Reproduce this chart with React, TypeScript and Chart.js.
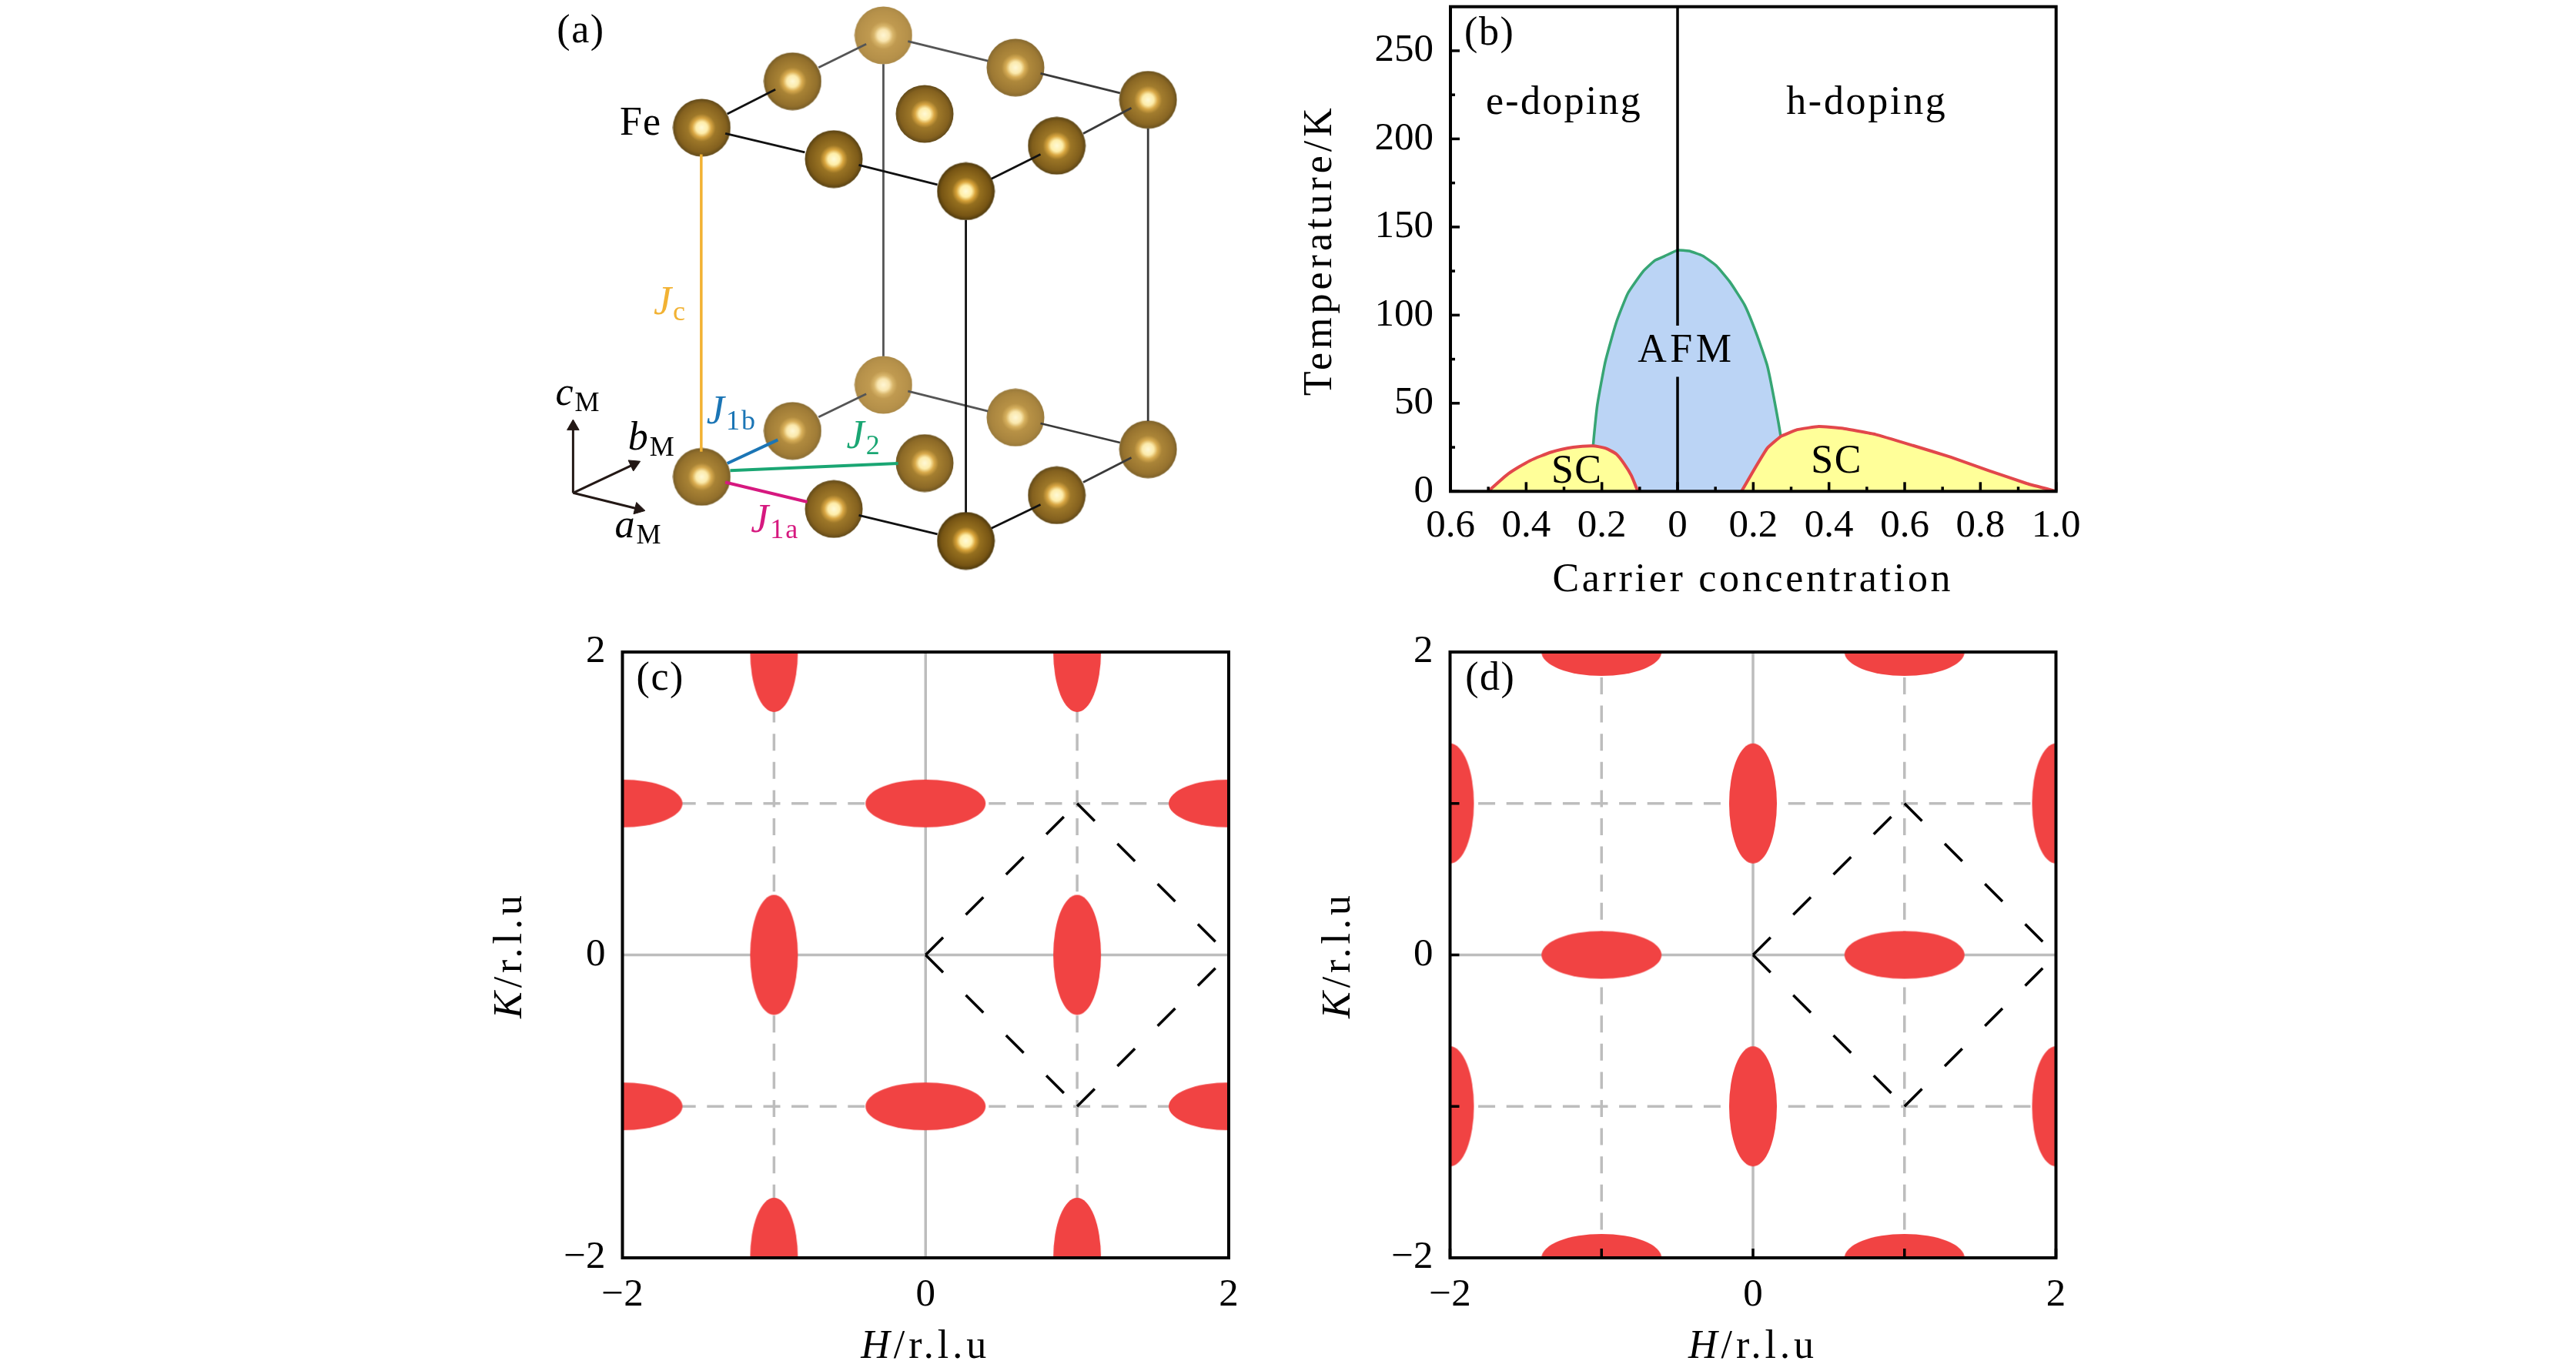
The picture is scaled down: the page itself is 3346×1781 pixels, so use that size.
import React, { useEffect, useRef } from "react";
import { Chart, registerables } from "chart.js";

Chart.register(...registerables);

const SERIF = "Liberation Serif";

// ---------- panel (a): Fe lattice schematic (schematic units) ----------
const atomX = [780, 595, 1049, 1319, 410, 864, 679, 1133, 948, 780, 595, 1049, 1319, 410, 864, 679, 1133, 948];
const atomY = [90, 207, 172, 254, 325, 290, 405, 371, 487, 980, 1097, 1063, 1144, 1214, 1179, 1296, 1261, 1377];
const atomHaze = [1, 0.45, 0.6, 0.3, 0.2, 0.2, 0.1, 0.15, 0, 1, 0.65, 0.8, 0.5, 0.45, 0.35, 0.2, 0.2, 0];

const bondsFront = [
  [462, 290, 560, 228], [620, 388, 458, 340], [890, 470, 730, 420], [1100, 393, 1000, 455],
  [948, 560, 948, 1305], [1100, 1285, 1000, 1345], [890, 1360, 730, 1312],
];
const bondsMiddle = [
  [1285, 275, 1187, 340], [1100, 187, 1262, 237], [1319, 327, 1319, 1072],
  [1285, 1165, 1187, 1228], [1100, 1078, 1262, 1127],
];
const bondsBack = [
  [648, 172, 745, 112], [830, 105, 993, 155], [780, 163, 780, 907],
  [648, 1062, 745, 1003], [830, 996, 993, 1047],
];
const exchangeJc = [409, 393, 409, 1150];
const exchangeJ1b = [462, 1180, 565, 1120];
const exchangeJ2 = [468, 1198, 810, 1180];
const exchangeJ1a = [458, 1228, 625, 1278];
const axisOrigin = [148, 1255];
const axisC = [148, 1086, 0];
const axisB = [272, 1182, 65];
const axisA = [281, 1296, 104];

// ---------- panel (b): phase diagram ----------
const domeX = [-0.223, -0.223, -0.212, -0.191, -0.162, -0.131, -0.091, -0.06, -0.034, 0, 0.03, 0.066, 0.102, 0.137, 0.177, 0.209, 0.237, 0.258, 0.273, 0.273];
const domeT = [0, 25.6, 49, 73.5, 95.8, 112.5, 124.8, 131, 133.5, 136.8, 136.4, 133.7, 128.1, 119.2, 105.8, 89.1, 71.3, 49, 30, 0];
const scLeftX = [-0.5, -0.447, -0.39, -0.333, -0.276, -0.223, -0.191, -0.162, -0.141, -0.122, -0.105];
const scLeftT = [0, 10, 17.4, 22.3, 25, 25.8, 24.5, 21.2, 15.6, 8.9, 0];
const scRightX = [0.169, 0.202, 0.237, 0.273, 0.316, 0.373, 0.437, 0.523, 0.622, 0.722, 0.822, 0.922, 1];
const scRightT = [0, 12.3, 24.5, 31.2, 35, 36.8, 35.7, 32.3, 26, 19.4, 11.8, 4.5, 0];
const dividerX = [0, 0];
const dividerTopT = [275, 94];
const dividerBaseT = [65, 0];

const bXTicks = [-0.6, -0.5, -0.4, -0.3, -0.2, -0.1, 0, 0.1, 0.2, 0.3, 0.4, 0.5, 0.6, 0.7, 0.8, 0.9, 1.0];
const bXLabels = ["0.6", "", "0.4", "", "0.2", "", "0", "", "0.2", "", "0.4", "", "0.6", "", "0.8", "", "1.0"];
const bYTicks = [0, 25, 50, 75, 100, 125, 150, 175, 200, 225, 250];
const bYLabels = ["0", "", "50", "", "100", "", "150", "", "200", "", "250"];

// ---------- panels (c), (d): reciprocal space ----------
const hkTicks = [-2, -1, 0, 1, 2];
const hkLabels = ["\u22122", "", "0", "", "2"];
const cTallH = [-1, 1, -1, 1, -1, 1];
const cTallK = [2, 2, 0, 0, -2, -2];
const cWideH = [-2, 0, 2, -2, 0, 2];
const cWideK = [1, 1, 1, -1, -1, -1];
const dTallH = [-2, 0, 2, -2, 0, 2];
const dTallK = [1, 1, 1, -1, -1, -1];
const dWideH = [-1, 1, -1, 1, -1, 1];
const dWideK = [2, 2, 0, 0, -2, -2];
const zoneEdges = [
  [0, 0, 1, 1],
  [1, 1, 2, 0],
  [0, 0, 1, -1],
  [1, -1, 2, 0],
];
const gridSolid = [
  [-2, 0, 2, 0],
  [0, -2, 0, 2],
];
const gridDashed = [
  [-2, 1, 2, 1],
  [-2, -1, 2, -1],
  [-1, -2, -1, 2],
  [1, -2, 1, 2],
];

// ---------- text ----------
type Run = { t: string; i?: boolean; sub?: boolean };
type Label = {
  runs: Run[]; x: number; y: number; size?: number; sp?: number; color?: string;
  rot?: number; left?: boolean;
};
const ink = "#000000";
const colorJc = "#F2B233";
const colorJ1b = "#1B75B5";
const colorJ2 = "#1AA673";
const colorJ1a = "#D6187F";

const aLabels: Label[] = [
  { runs: [{ t: "(a)" }], x: 115, y: 108, left: true, sp: 1.5 },
  { runs: [{ t: "Fe" }], x: 243, y: 343, left: true, sp: 1 },
  { runs: [{ t: "J", i: true }, { t: "c", sub: true }], x: 312, y: 800, left: true, color: colorJc, sp: 2 },
  { runs: [{ t: "J", i: true }, { t: "1b", sub: true }], x: 420, y: 1078, left: true, color: colorJ1b, sp: 2 },
  { runs: [{ t: "J", i: true }, { t: "2", sub: true }], x: 705, y: 1140, left: true, color: colorJ2, sp: 2 },
  { runs: [{ t: "J", i: true }, { t: "1a", sub: true }], x: 510, y: 1355, left: true, color: colorJ1a, sp: 2 },
  { runs: [{ t: "c", i: true }, { t: "M", sub: true }], x: 112, y: 1030, left: true, sp: 2 },
  { runs: [{ t: "b", i: true }, { t: "M", sub: true }], x: 260, y: 1145, left: true, sp: 2 },
  { runs: [{ t: "a", i: true }, { t: "M", sub: true }], x: 233, y: 1368, left: true, sp: 2 },
];
const bLabels: Label[] = [
  { runs: [{ t: "(b)" }], x: -0.497, y: 259.6, sp: 1.5 },
  { runs: [{ t: "e-doping" }], x: -0.3, y: 220, sp: 2.3 },
  { runs: [{ t: "h-doping" }], x: 0.5, y: 220, sp: 2.7 },
  { runs: [{ t: "AFM" }], x: 0.023, y: 79.5, sp: 4.5 },
  { runs: [{ t: "SC" }], x: -0.266, y: 10.8, sp: 1.5 },
  { runs: [{ t: "SC" }], x: 0.42, y: 16.4, sp: 1.5 },
  { runs: [{ t: "Carrier concentration" }], x: 0.199, y: -50.5, sp: 3.7 },
  { runs: [{ t: "Temperature/K" }], x: -0.942, y: 137, sp: 5, rot: -90 },
];
const hkTitles = (tag: string, tagX: number): Label[] => [
  { runs: [{ t: tag }], x: tagX, y: 1.82, sp: 1.5 },
  { runs: [{ t: "H", i: true }, { t: "/r.l.u" }], x: 0, y: -2.59, sp: 5 },
  { runs: [{ t: "K", i: true }, { t: "/r.l.u" }], x: -2.735, y: 0, sp: 5, rot: -90 },
];

// ---------- helpers ----------
const pts = (xs: number[], ys: number[]) => xs.map((x, i) => ({ x, y: ys[i] }));
const seg = (s: number[]) => [{ x: s[0], y: s[1] }, { x: s[2], y: s[3] }];

const lerpHex = (a: string, b: string, t: number) => {
  const p = (h: string, i: number) => parseInt(h.slice(i, i + 2), 16);
  const c = [1, 3, 5].map((i) => Math.round(p(a, i) + (p(b, i) - p(a, i)) * t));
  return `rgb(${c[0]},${c[1]},${c[2]})`;
};
const makeAtom = (haze: number) => {
  const c = document.createElement("canvas");
  c.width = 76;
  c.height = 76;
  const g = c.getContext("2d")!;
  const stops = [0, 0.2, 0.33, 0.48, 0.85, 1];
  const dark = ["#FFFBD8", "#FFEFA8", "#D9A43A", "#96701F", "#775514", "#4F3A0E"];
  const light = ["#FFF6D4", "#F9E6B0", "#D8B56A", "#C09A50", "#B6914A", "#AC8A48"];
  const grad = g.createRadialGradient(38, 38, 0, 38, 38, 37.5);
  stops.forEach((s, i) => grad.addColorStop(s, lerpHex(dark[i], light[i], haze)));
  g.fillStyle = grad;
  g.beginPath();
  g.arc(38, 38, 37.5, 0, Math.PI * 2);
  g.fill();
  return c;
};
const makeEllipse = (rx: number, ry: number) => {
  const c = document.createElement("canvas");
  c.width = Math.ceil(rx * 2) + 2;
  c.height = Math.ceil(ry * 2) + 2;
  const g = c.getContext("2d")!;
  g.fillStyle = "#F14343";
  g.beginPath();
  g.ellipse(c.width / 2, c.height / 2, rx, ry, 0, 0, Math.PI * 2);
  g.fill();
  return c;
};

const panelPlugin = (labels: Label[], tickLen: (label: string) => number, frame: boolean) => ({
  id: "panelDecor",
  afterDatasetsDraw(chart: any) {
    const { ctx, chartArea: a, scales } = chart;
    if (!frame) return;
    ctx.save();
    ctx.strokeStyle = "#000";
    ctx.lineWidth = 3.5;
    for (const t of scales.x.ticks) {
      const len = tickLen(String(t.label));
      if (!len) continue;
      const p = scales.x.getPixelForValue(t.value);
      ctx.beginPath();
      ctx.moveTo(p, a.bottom);
      ctx.lineTo(p, a.bottom - len);
      ctx.stroke();
    }
    for (const t of scales.y.ticks) {
      const len = tickLen(String(t.label));
      if (!len) continue;
      const p = scales.y.getPixelForValue(t.value);
      ctx.beginPath();
      ctx.moveTo(a.left, p);
      ctx.lineTo(a.left + len, p);
      ctx.stroke();
    }
    ctx.lineWidth = 4;
    ctx.strokeRect(a.left, a.top, a.right - a.left, a.bottom - a.top);
    ctx.restore();
  },
  afterDraw(chart: any) {
    const { ctx, scales } = chart;
    for (const l of labels) {
      const size = l.size ?? 52;
      ctx.save();
      ctx.translate(scales.x.getPixelForValue(l.x), scales.y.getPixelForValue(l.y));
      if (l.rot) ctx.rotate((l.rot * Math.PI) / 180);
      ctx.fillStyle = l.color ?? ink;
      ctx.textBaseline = l.left ? "alphabetic" : "middle";
      ctx.textAlign = "left";
      (ctx as any).letterSpacing = `${l.sp ?? 0}px`;
      const fontOf = (r: Run) => `${r.i ? "italic " : ""}${r.sub ? 36 : size}px "${SERIF}"`;
      let total = 0;
      for (const r of l.runs) {
        ctx.font = fontOf(r);
        total += ctx.measureText(r.t).width;
      }
      let x = l.left ? 0 : -total / 2;
      for (const r of l.runs) {
        ctx.font = fontOf(r);
        ctx.fillText(r.t, x, r.sub ? 8 : 0);
        x += ctx.measureText(r.t).width;
      }
      (ctx as any).letterSpacing = "0px";
      ctx.restore();
    }
  },
});

const axis = (
  min: number, max: number, ticks: number[], labels: string[], fitKey: "width" | "height", fit: number, pad: number,
) => ({
  type: "linear" as const,
  min,
  max,
  grid: { display: false, drawTicks: false },
  border: { display: false },
  afterBuildTicks: (s: any) => {
    s.ticks = ticks.map((value) => ({ value }));
  },
  afterFit: (s: any) => {
    s[fitKey] = fit;
  },
  ticks: {
    autoSkip: false,
    maxRotation: 0,
    minRotation: 0,
    padding: pad,
    color: ink,
    font: { family: SERIF, size: 51 },
    callback: (_v: any, i: number) => labels[i],
  },
});

const baseOptions = (padding: any, scales: any) => ({
  responsive: false,
  animation: false as const,
  devicePixelRatio: 1,
  events: [] as string[],
  layout: { padding, autoPadding: false },
  plugins: { legend: { display: false }, tooltip: { enabled: false } },
  scales,
});

const lineDs = (data: any[], color: string, width: number, order: number, extra: any = {}) => ({
  type: "scatter" as const,
  data,
  showLine: true,
  borderColor: color,
  borderWidth: width,
  pointRadius: 0,
  order,
  ...extra,
});

function makeA(cv: HTMLCanvasElement) {
  const sprites = atomHaze.map(makeAtom);
  const bonds = (list: number[][], color: string) => list.map((s) => lineDs(seg(s), color, 2.8, 1));
  const arrow = (end: number[]) =>
    lineDs(
      [{ x: axisOrigin[0], y: axisOrigin[1] }, { x: end[0], y: end[1] }],
      "#231815", 3, 0,
      {
        pointRadius: (c: any) => (c.dataIndex === 1 ? 9 : 0),
        pointStyle: "triangle",
        pointRotation: end[2],
        pointBackgroundColor: "#231815",
        pointBorderColor: "#231815",
        pointBorderWidth: 1,
        clip: false,
      },
    );
  return new Chart(cv, {
    type: "scatter",
    data: {
      datasets: [
        ...bonds(bondsFront, "#111111"),
        ...bonds(bondsMiddle, "#3A3A3A"),
        ...bonds(bondsBack, "#555555"),
        lineDs(seg(exchangeJc), colorJc, 3.5, 0),
        lineDs(seg(exchangeJ1b), colorJ1b, 4, 0),
        lineDs(seg(exchangeJ2), colorJ2, 4, 0),
        lineDs(seg(exchangeJ1a), colorJ1a, 4, 0),
        arrow(axisC),
        arrow(axisB),
        arrow(axisA),
        {
          type: "scatter" as const,
          data: pts(atomX, atomY),
          showLine: false,
          pointRadius: 38,
          pointStyle: (c: any) => sprites[c.dataIndex],
          order: 5,
          clip: false,
        },
      ],
    } as any,
    options: baseOptions(0, {
      x: { type: "linear", min: 0, max: 1568, display: false },
      y: { type: "linear", min: 0, max: 1568, reverse: true, display: false },
    }) as any,
    plugins: [panelPlugin(aLabels, () => 0, false)],
  });
}

function makeB(cv: HTMLCanvasElement) {
  return new Chart(cv, {
    type: "scatter",
    data: {
      datasets: [
        lineDs(pts(domeX, domeT), "#37A574", 3.5, 5, { fill: "origin", backgroundColor: "#BBD4F5", tension: 0.15 }),
        lineDs(pts(scLeftX, scLeftT), "#E2474B", 4, 4, { fill: "origin", backgroundColor: "#FFFF99", tension: 0.2 }),
        lineDs(pts(scRightX, scRightT), "#E2474B", 4, 4, { fill: "origin", backgroundColor: "#FFFF99", tension: 0.1 }),
        lineDs(pts(dividerX, dividerTopT), "#000", 3.5, 3),
        lineDs(pts(dividerX, dividerBaseT), "#000", 3.5, 3),
      ],
    } as any,
    options: baseOptions({ left: 0, top: 68.7, right: 89.3, bottom: 0 }, {
      x: axis(-0.6, 1, bXTicks, bXLabels, "height", 161.7, 15),
      y: axis(0, 275, bYTicks, bYLabels, "width", 224, 22),
    }) as any,
    plugins: [panelPlugin(bLabels, (l) => (l ? 12 : 6), true)],
  });
}

function makeHK(
  cv: HTMLCanvasElement, tallH: number[], tallK: number[], wideH: number[], wideK: number[],
  labels: Label[], tickLen: number, padRight: number,
) {
  const tall = makeEllipse(31, 78);
  const wide = makeEllipse(78, 31);
  const red = (h: number[], k: number[], sprite: HTMLCanvasElement) => ({
    type: "scatter" as const,
    data: pts(h, k),
    showLine: false,
    pointRadius: 40,
    pointStyle: sprite,
    clip: 0,
    order: 2,
  });
  return new Chart(cv, {
    type: "scatter",
    data: {
      datasets: [
        ...gridSolid.map((s) => lineDs(seg(s), "#BDBDBD", 3.5, 4)),
        ...gridDashed.map((s) => lineDs(seg(s), "#BDBDBD", 3.5, 4, { borderDash: [22, 14.6] })),
        red(tallH, tallK, tall),
        red(wideH, wideK, wide),
        ...zoneEdges.map((s) => lineDs(seg(s), "#000", 3.5, 1, { borderDash: [32.2, 41.7] })),
      ],
    } as any,
    options: baseOptions({ left: 0, top: 67, right: padRight, bottom: 0 }, {
      x: axis(-2, 2, hkTicks, hkLabels, "height", 147, 18),
      y: axis(-2, 2, hkTicks, hkLabels, "width", 208.5, 22),
    }) as any,
    plugins: [panelPlugin(labels, () => tickLen, true)],
  });
}

const Panel = React.forwardRef<HTMLCanvasElement, { l: number; t: number; w: number; h: number }>(
  ({ l, t, w, h }, ref) => (
    <canvas ref={ref} width={w} height={h} style={{ position: "absolute", left: l, top: t, width: w, height: h }} />
  ),
);

export default function App() {
  const a = useRef<HTMLCanvasElement>(null);
  const b = useRef<HTMLCanvasElement>(null);
  const c = useRef<HTMLCanvasElement>(null);
  const d = useRef<HTMLCanvasElement>(null);
  useEffect(() => {
    const charts = [
      makeA(a.current!),
      makeB(b.current!),
      makeHK(c.current!, cTallH, cTallK, cWideH, cWideK, hkTitles("(c)", -1.75), 0, 64),
      makeHK(d.current!, dTallH, dTallK, dWideH, dWideK, hkTitles("(d)", -1.734), 12, 64.5),
    ];
    return () => charts.forEach((ch) => ch.destroy());
  }, []);
  return (
    <div style={{ position: "absolute", left: 0, top: 0, width: 3346, height: 1781, overflow: "hidden", background: "#fff" }}>
      <Panel ref={a} l={650} t={0} w={1000} h={800} />
      <Panel ref={b} l={1660} t={-60} w={1100} h={860} />
      <Panel ref={c} l={600} t={780} w={1060} h={1001} />
      <Panel ref={d} l={1675} t={780} w={1060} h={1001} />
    </div>
  );
}
